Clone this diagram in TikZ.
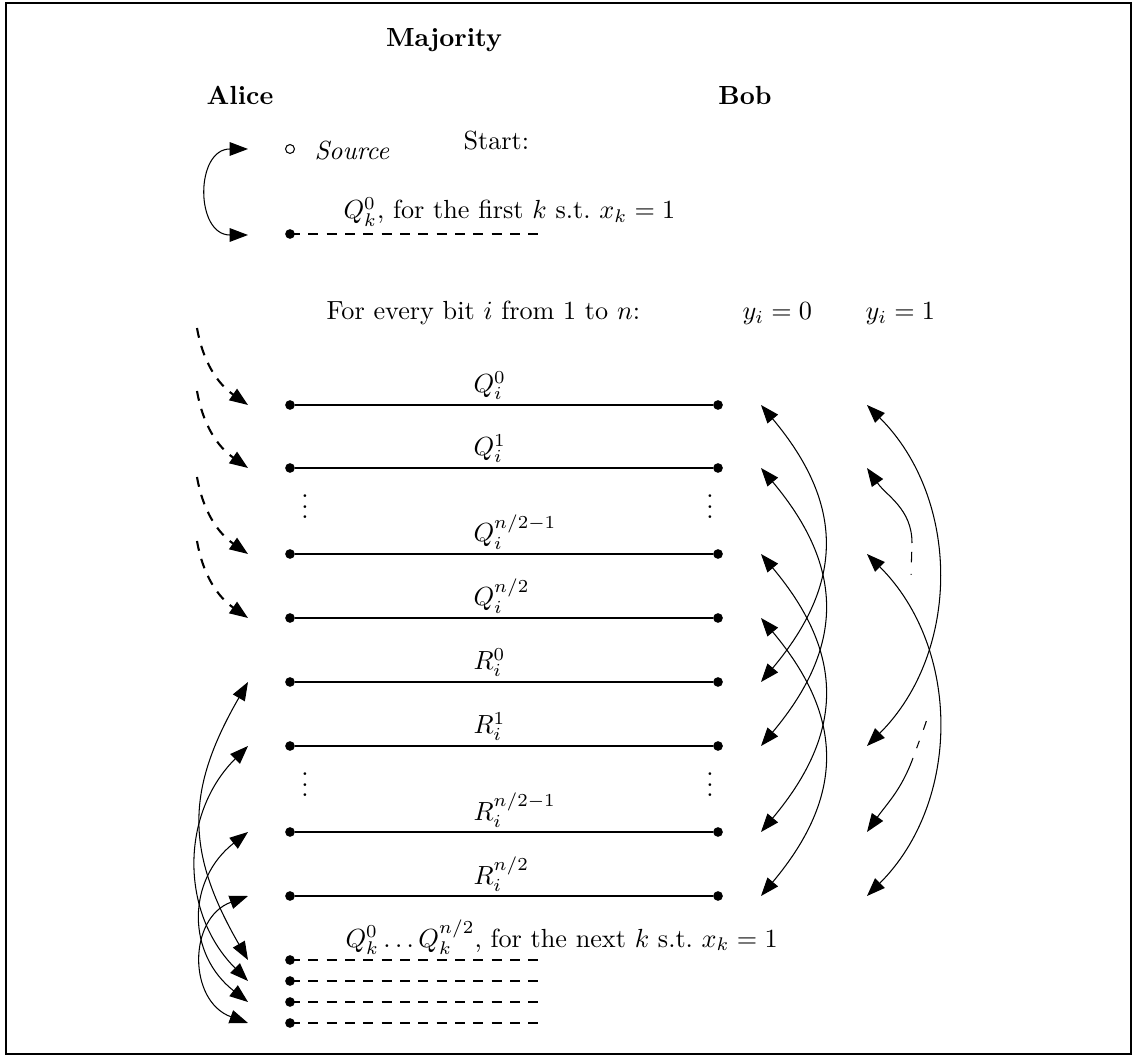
\documentclass[tikz,border=0pt]{standalone}
\usetikzlibrary{arrows.meta}

\tikzset{
  px/.style={x=0.3817pt, y=0.3817pt},
  txt/.style={anchor=base west, inner sep=0pt},
  qdot/.style={circle, fill, inner sep=0pt, minimum size=3.7pt},
  srcdot/.style={circle, draw, inner sep=0pt, minimum size=3.4pt},
  longdash/.style={thick, dash pattern=on 3.8pt off 3.2pt},
  swap/.style={{Triangle[length=7pt,width=5.2pt]}-{Triangle[length=7pt,width=5.2pt]}},
  carry/.style={-{Triangle[length=7pt,width=5.2pt]}, longdash},
  partial/.style={{Triangle[length=7pt,width=5.2pt]}-},
}

\begin{document}
\begin{tikzpicture}[px]
    \useasboundingbox (0,0) rectangle (1132,1055);
    \draw (6,1) rectangle (1131,1052);

    % headings
    \node[anchor=base] (title) at (444,1008) {\textbf{Majority}};
    \node[anchor=base] (alice) at (240,950) {\textbf{Alice}};
    \node[anchor=base] (bob) at (745,950) {\textbf{Bob}};

    % start
    \node[txt] (start) at (463,905) {Start:};
    \node[srcdot] (src) at (290,906) {};
    \node[txt] (srclabel) at (314,895) {\textit{Source}};
    \node[qdot] (qk) at (290,821) {};
    \coordinate (qkend) at (538,821);
    \draw[longdash] (qk.center) -- (qkend);
    \node[txt] (qklabel) at (343,836) {$Q_k^0$, for the first $k$ s.t.\ $x_k=1$};
    \coordinate (tsrc) at (248,906);
    \coordinate (tqk) at (248,820);
    \draw[swap] (tsrc) .. controls +(-53,0) and +(-53,0) .. (tqk);

    % loop
    \node[txt] (loop) at (326,735) {For every bit $i$ from 1 to $n$:};
    \node[txt] (yzero) at (742,735) {$y_i=0$};
    \node[txt] (yone) at (865,735) {$y_i=1$};

    % wires
    \foreach \nm/\yy/\lab in {Q0/650/{$Q_i^0$}, Q1/587/{$Q_i^1$}, Qm/501/{$Q_i^{n/2-1}$}, Qn/437/{$Q_i^{n/2}$},
                              R0/373/{$R_i^0$}, R1/309/{$R_i^1$}, Rm/223/{$R_i^{n/2-1}$}, Rn/159/{$R_i^{n/2}$}}{
        \node[qdot] (a\nm) at (290,\yy) {};
        \node[qdot] (b\nm) at (718,\yy) {};
        \draw (a\nm) -- (b\nm);
        \node[txt] (lab\nm) at (473,\yy+12) {\lab};
        \coordinate (l\nm) at (248,\yy);
        \coordinate (r\nm) at (761,\yy);
        \coordinate (s\nm) at (867,\yy);
    }
    \node (vdA) at (305,556) {$\vdots$};
    \node (vdB) at (710,556) {$\vdots$};
    \node (vdC) at (305,278) {$\vdots$};
    \node (vdD) at (710,278) {$\vdots$};

    % carried in from the previous bit
    \foreach \nm/\yy in {Q0/650, Q1/587, Qm/501, Qn/437}{
        \coordinate (d\nm) at (197,\yy+77);
        \draw[carry] (d\nm) to[out=-80,in=145] (l\nm);
    }

    % Bob, y_i = 0
    \draw[swap] (rQ0) to[out=-50,in=50,looseness=1.2] (rR0);
    \draw[swap] (rQ1) to[out=-50,in=50,looseness=1.2] (rR1);
    \draw[swap] (rQm) to[out=-50,in=50,looseness=1.2] (rRm);
    \draw[swap] (rQn) to[out=-50,in=50,looseness=1.2] (rRn);

    % Bob, y_i = 1
    \draw[swap] (sQ0) to[out=-45,in=45] (sR1);
    \draw[swap] (sQm) to[out=-45,in=45] (sRn);
    \coordinate (fadeA) at (912,512);
    \coordinate (fadeB) at (911,479);
    \draw[partial] (sQ1) to[out=-55,in=90] (fadeA);
    \draw[dash pattern=on 0pt off 3.4pt on 4pt off 4.4pt on 0.4pt off 9pt] (fadeA) -- (fadeB);
    \coordinate (fadeC) at (913,297);
    \coordinate (fadeD) at (932,353);
    \draw[partial] (sRm) to[out=55,in=250] (fadeC);
    \draw[dash pattern=on 0pt off 4pt on 3pt off 4.5pt on 3.5pt off 4pt] (fadeC) to[out=70,in=255] (fadeD);

    % next k
    \node[txt] (nextlabel) at (345,108) {$Q_k^0\ldots Q_k^{n/2}$, for the next $k$ s.t.\ $x_k=1$};
    \foreach \nm/\yy in {B1/95, B2/74, B3/53, B4/32}{
        \node[qdot] (a\nm) at (290,\yy) {};
        \coordinate (e\nm) at (538,\yy);
        \draw[longdash] (a\nm.center) -- (e\nm);
        \coordinate (l\nm) at (248,\yy);
    }
    \draw[swap] (lR0) .. controls +(240:125) and +(120:125) .. (lB1);
    \draw[swap] (lR1) .. controls +(225:96) and +(135:96) .. (lB2);
    \draw[swap] (lRm) .. controls +(218:78) and +(142:78) .. (lB3);
    \draw[swap] (lRn) .. controls +(200:64) and +(160:64) .. (lB4);
\end{tikzpicture}
\end{document}
